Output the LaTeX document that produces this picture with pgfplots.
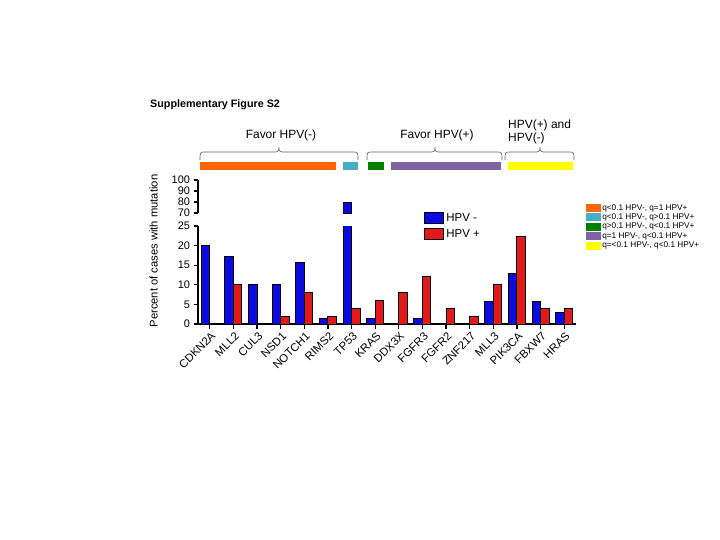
\documentclass[border=0pt]{standalone}
\usepackage{pgfplots}
\pgfplotsset{compat=1.18}
\usepackage{fontspec}
\setmainfont{Liberation Sans}
\definecolor{barblue}{RGB}{10,10,225}
\definecolor{barred}{RGB}{225,25,25}
\definecolor{qorange}{RGB}{255,102,0}
\definecolor{qcyan}{RGB}{75,172,198}
\definecolor{qgreen}{RGB}{0,128,0}
\definecolor{qpurple}{RGB}{128,100,162}
\definecolor{qyellow}{RGB}{255,255,0}
\definecolor{brgray}{RGB}{95,95,95}
\pgfplotsset{
  hpvbox/.style={legend image code/.code={\draw[##1,line width=1.2bp] (0bp,-5.5bp) rectangle (19bp,5.5bp);}},
  qbox/.style={legend image code/.code={\fill[##1, draw=none] (0bp,-3.9bp) rectangle (15bp,3.9bp);}},
  common/.style={
    width=378bp, scale only axis, xmin=-0.5, xmax=15.5,
    tick align=outside, major tick length=4.5bp,
    every tick/.style={black, line width=1.2bp},
    axis line style={line width=1.6bp, black},
    y tick label style={font=\fontsize{11}{13}\selectfont},
    /pgf/number format/assume math mode=true,
  },
}
\begin{document}
\begin{tikzpicture}
\useasboundingbox (0,0) rectangle (720bp,-540bp);
% annotation layer (pixel units)
\begin{axis}[
  at={(0,0)}, anchor=north west, width=720bp, height=540bp, scale only axis,
  xmin=0, xmax=720, ymin=-540, ymax=0, hide axis, clip=false,
  legend style={at={(0.8097,0.6278)}, anchor=north west, draw=none, fill=none,
    font=\fontsize{8.3}{9}\selectfont, row sep=0pt, nodes={inner sep=1.1bp},
    legend cell align=left},
]
\addlegendimage{qbox, fill=qorange, draw=none}
\addlegendentry{q<0.1 HPV-, q=1 HPV+}
\addlegendimage{qbox, fill=qcyan, draw=none}
\addlegendentry{q<0.1 HPV-, q>0.1 HPV+}
\addlegendimage{qbox, fill=qgreen, draw=none}
\addlegendentry{q>0.1 HPV-, q<0.1 HPV+}
\addlegendimage{qbox, fill=qpurple, draw=none}
\addlegendentry{q=1 HPV-, q<0.1 HPV+}
\addlegendimage{qbox, fill=qyellow, draw=none}
\addlegendentry{q=<0.1 HPV-, q<0.1 HPV+}
% title
\node[anchor=base west, inner sep=0pt, font=\bfseries\fontsize{10.8}{13}\selectfont] at (150,-108) {Supplementary Figure S2};
% group labels
\node[anchor=base, font=\fontsize{12}{14}\selectfont] at (281,-139) {Favor HPV(-)};
\node[anchor=base, font=\fontsize{12}{14}\selectfont] at (437,-139) {Favor HPV(+)};
\node[anchor=base west, inner sep=0pt, font=\fontsize{12}{14}\selectfont] at (508,-128.3) {HPV(+) and};
\node[anchor=base west, inner sep=0pt, font=\fontsize{12}{14}\selectfont] at (508,-141.5) {HPV(-)};
% braces
\draw[brgray, line width=0.6bp] (200,-160) .. controls (200,-153) and (200,-152) .. (204,-152) -- (276,-152) .. controls (278,-152) and (279,-151) .. (279,-147) .. controls (279,-151) and (280,-152) .. (282,-152) -- (354,-152) .. controls (358,-152) and (358,-153) .. (358,-160);
\draw[brgray, line width=0.6bp] (367,-160) .. controls (367,-153) and (367,-152) .. (371,-152) -- (432,-152) .. controls (434,-152) and (435,-151) .. (435,-147) .. controls (435,-151) and (436,-152) .. (438,-152) -- (498,-152) .. controls (502,-152) and (502,-153) .. (502,-160);
\draw[brgray, line width=0.6bp] (505,-160) .. controls (505,-153) and (505,-152) .. (509,-152) -- (537,-152) .. controls (539,-152) and (540,-151) .. (540,-147) .. controls (540,-151) and (541,-152) .. (543,-152) -- (570,-152) .. controls (574,-152) and (574,-153) .. (574,-160);
% coloured strips
\fill[qorange] (200,-162) rectangle (336,-170);
\fill[qcyan] (343,-162) rectangle (358,-170);
\fill[qgreen] (368,-162) rectangle (384,-170);
\fill[qpurple] (391,-162) rectangle (501,-170);
\fill[qyellow] (508,-162) rectangle (573,-170);
% y label
\node[rotate=90, font=\fontsize{11.25}{13}\selectfont] at (153.5,-251) {Percent of cases with mutation};
\end{axis}

% upper (broken) axis: only TP53 reaches it
\begin{axis}[common,
  at={(198bp,-213bp)}, anchor=south west, height=33bp,
  ymin=70, ymax=100, ytick={70,80,90,100},
  axis x line=none, axis y line*=left, xtick=\empty,
]
\addplot[ybar, bar width=0.36, bar shift=-0.18, fill=barblue, draw=black, line width=1bp]
  coordinates {(6,80)};
\end{axis}

% lower axis
\begin{axis}[common,
  at={(198bp,-324bp)}, anchor=south west, height=98bp,
  ymin=0, ymax=25, ytick={0,5,...,25},
  axis x line*=bottom, axis y line*=left,
  xtick={0,...,15},
  xticklabels={CDKN2A,MLL2,CUL3,NSD1,NOTCH1,RIMS2,TP53,KRAS,DDX3X,FGFR3,FGFR2,ZNF217,MLL3,PIK3CA,FBXW7,HRAS},
  x tick label style={rotate=45, anchor=east, xshift=2bp, yshift=-6.5bp, font=\fontsize{11.4}{13}\selectfont},
  legend style={at={(0.59,1.173)}, anchor=north west, draw=none, fill=none,
    font=\fontsize{11.5}{13}\selectfont, row sep=3bp, legend cell align=left},
]
\addplot[ybar, bar width=0.36, bar shift=-0.18, fill=barblue, draw=black, line width=1bp, hpvbox]
  coordinates {(0,20) (1,17.2) (2,10) (3,10) (4,15.8) (5,1.5) (6,80) (7,1.5) (9,1.5) (12,5.7) (13,13) (14,5.7) (15,2.9)};
\addlegendentry{HPV -}
\addplot[ybar, bar width=0.36, bar shift=0.18, fill=barred, draw=black, line width=1bp, hpvbox]
  coordinates {(1,10) (3,2) (4,8) (5,2) (6,4) (7,6) (8,8) (9,12) (10,4) (11,2) (12,10) (13,22.2) (14,4) (15,4)};
\addlegendentry{HPV +}
\end{axis}
\end{tikzpicture}
\end{document}
